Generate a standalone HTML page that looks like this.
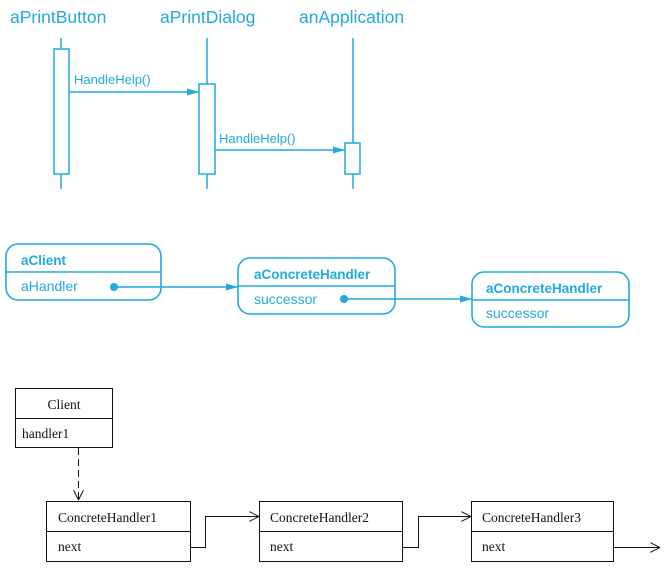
<!DOCTYPE html>
<html><head><meta charset="utf-8"><style>
html,body{margin:0;padding:0;background:#fff;}
svg{display:block;}
.b{fill:#22a9df;font-family:"Liberation Sans",Arial,sans-serif;}
.t{font-family:"Liberation Serif",serif;fill:#111;font-size:13.5px;}
</style></head><body>
<svg width="669" height="579" viewBox="0 0 669 579" xmlns="http://www.w3.org/2000/svg">
<defs>
<marker id="fa" markerWidth="12" markerHeight="8" refX="12" refY="4" orient="auto" markerUnits="userSpaceOnUse"><path d="M0,0.5 L12,4 L0,7.5 Z" fill="#22a9df"/></marker>
<marker id="oa" markerWidth="10" markerHeight="10" refX="10" refY="5" orient="auto" markerUnits="userSpaceOnUse"><path d="M0,0 L10,5 L0,10" fill="none" stroke="#111" stroke-width="1"/></marker>
</defs>
<g stroke="#22a9df" stroke-width="1.5" fill="#fff">
<line x1="61" y1="38" x2="61" y2="189"/>
<line x1="207" y1="38" x2="207" y2="189"/>
<line x1="353" y1="38" x2="353" y2="189"/>
<rect x="54" y="49" width="15" height="125"/>
<rect x="199" y="84" width="16" height="90"/>
<rect x="345" y="143" width="15" height="31"/>
<line x1="69" y1="92" x2="199" y2="92" marker-end="url(#fa)"/>
<line x1="215" y1="150" x2="345" y2="150" marker-end="url(#fa)"/>
</g>
<text class="b" x="10" y="23" font-size="17.5">aPrintButton</text>
<text class="b" x="160" y="23" font-size="17.5">aPrintDialog</text>
<text class="b" x="299" y="23" font-size="17.5">anApplication</text>
<text class="b" x="74" y="84" font-size="13">HandleHelp()</text>
<text class="b" x="219" y="143" font-size="13">HandleHelp()</text>
<g stroke="#22a9df" stroke-width="1.6" fill="none">
<rect x="6" y="244" width="155" height="56" rx="12"/>
<line x1="6" y1="272" x2="161" y2="272"/>
<rect x="238" y="258" width="157" height="56" rx="12"/>
<line x1="238" y1="286" x2="395" y2="286"/>
<rect x="472" y="272" width="157" height="55" rx="12"/>
<line x1="472" y1="300" x2="629" y2="300"/>
<line x1="114" y1="287" x2="238" y2="287" marker-end="url(#fa)"/>
<line x1="344" y1="299" x2="472" y2="299" marker-end="url(#fa)"/>
</g>
<circle cx="114" cy="287" r="4" fill="#22a9df"/>
<circle cx="344" cy="299" r="4" fill="#22a9df"/>
<text class="b" x="21" y="265" font-size="13.5" font-weight="bold">aClient</text>
<text class="b" x="21" y="291" font-size="14">aHandler</text>
<text class="b" x="254" y="279" font-size="13.5" font-weight="bold">aConcreteHandler</text>
<text class="b" x="254" y="304" font-size="14">successor</text>
<text class="b" x="486" y="293" font-size="13.5" font-weight="bold">aConcreteHandler</text>
<text class="b" x="486" y="318" font-size="14">successor</text>
<g stroke="#111" stroke-width="1" fill="none">
<rect x="15.5" y="388.5" width="97" height="59"/>
<line x1="15.5" y1="418.5" x2="112.5" y2="418.5"/>
<rect x="46.5" y="501.5" width="144" height="60"/>
<line x1="46.5" y1="531.5" x2="190.5" y2="531.5"/>
<rect x="259.5" y="501.5" width="143" height="60"/>
<line x1="259.5" y1="531.5" x2="402.5" y2="531.5"/>
<rect x="471.5" y="501.5" width="142" height="60"/>
<line x1="471.5" y1="531.5" x2="613.5" y2="531.5"/>
<line x1="78.5" y1="448" x2="78.5" y2="500" stroke-dasharray="7,4" marker-end="url(#oa)"/>
<polyline points="190.5,547.5 205.5,547.5 205.5,516.5 259,516.5" marker-end="url(#oa)"/>
<polyline points="402.5,547.5 418.5,547.5 418.5,516.5 471,516.5" marker-end="url(#oa)"/>
<line x1="613.5" y1="547.5" x2="660" y2="547.5" marker-end="url(#oa)"/>
</g>
<text class="t" x="64" y="409" text-anchor="middle">Client</text>
<text class="t" x="22" y="438">handler1</text>
<text class="t" x="58" y="522">ConcreteHandler1</text>
<text class="t" x="58" y="551">next</text>
<text class="t" x="270" y="522">ConcreteHandler2</text>
<text class="t" x="270" y="551">next</text>
<text class="t" x="482" y="522">ConcreteHandler3</text>
<text class="t" x="482" y="551">next</text>
</svg>
</body></html>
